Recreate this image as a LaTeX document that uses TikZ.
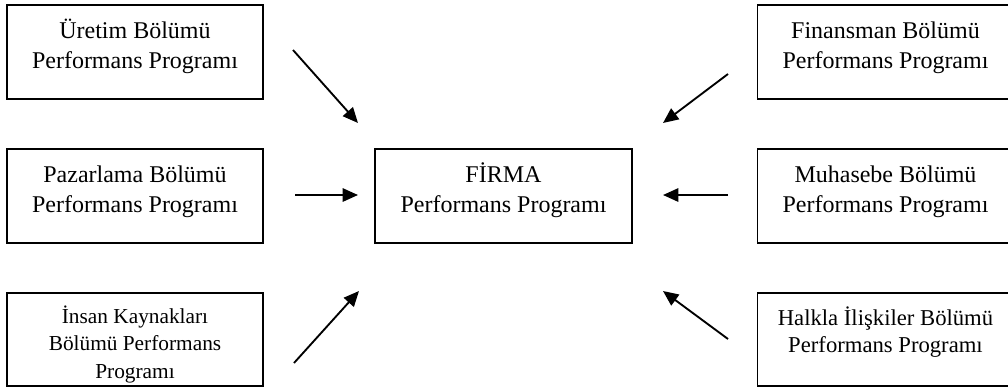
\documentclass[tikz,border=0pt]{standalone}
\usepackage{fontspec}
\setmainfont{Liberation Serif}
\usetikzlibrary{arrows.meta}

\tikzset{
  dept/.style={draw, line width=1.3pt, inner sep=0pt,
    minimum width=192pt, minimum height=70.5pt},
  % anchor=base sits on the baseline of the last line
  dtext/.style={anchor=base, align=center, inner sep=0pt,
    font=\fontsize{18}{22.5}\selectfont},
  feed/.style={line width=1.4pt,
    -{Triangle[length=11.5pt,width=10pt]}}
}

\begin{document}
\begin{tikzpicture}[x=0.75pt,y=-0.75pt]
  \useasboundingbox (0,0) rectangle (1008,387);
  \clip (0,0) rectangle (1008,387);

  % department boxes, left column
  \node[dept] (ur) at (135,52) {};
  \node[dept] (pz) at (135,196) {};
  \node[dept, minimum height=69.75pt] (ik) at (135,339.5) {};
  % central box
  \node[dept, minimum width=192.75pt] (firma) at (503.5,196) {};
  % department boxes, right column
  \node[dept] (fn) at (885.5,52) {};
  \node[dept] (mh) at (885.5,196) {};
  \node[dept, minimum height=69.75pt] (hi) at (885.5,339.5) {};

  % box texts
  \node[dtext] (urt) at (135,68) {Üretim Bölümü\\Performans Programı};
  \node[dtext] (pzt) at (135,212) {Pazarlama Bölümü\\Performans Programı};
  \node[dtext, font=\fontsize{16}{20.6}\selectfont] (ikt) at (135,378)
    {İnsan Kaynakları\\Bölümü Performans\\Programı};
  \node[dtext] (firmat) at (503.5,212) {FİRMA\\Performans Programı};
  \node[dtext] (fnt) at (885.5,68) {Finansman Bölümü\\Performans Programı};
  \node[dtext] (mht) at (885.5,212) {Muhasebe Bölümü\\Performans Programı};
  \node[dtext, font=\fontsize{17}{20.25}\selectfont] (hit) at (885.5,352)
    {Halkla İlişkiler Bölümü\\Performans Programı};

  % arrow end points
  \coordinate (a1s) at (293,50);  \coordinate (a1e) at (358,123);
  \coordinate (a2s) at (295,195); \coordinate (a2e) at (358,195);
  \coordinate (a3s) at (294,363); \coordinate (a3e) at (359,291);
  \coordinate (a4s) at (728,74);  \coordinate (a4e) at (663,123);
  \coordinate (a5s) at (728,195); \coordinate (a5e) at (663,195);
  \coordinate (a6s) at (728,339); \coordinate (a6e) at (663,291);

  % arrows towards the firm programme
  \draw[feed] (a1s) -- (a1e);
  \draw[feed] (a2s) -- (a2e);
  \draw[feed] (a3s) -- (a3e);
  \draw[feed] (a4s) -- (a4e);
  \draw[feed] (a5s) -- (a5e);
  \draw[feed] (a6s) -- (a6e);
\end{tikzpicture}
\end{document}
